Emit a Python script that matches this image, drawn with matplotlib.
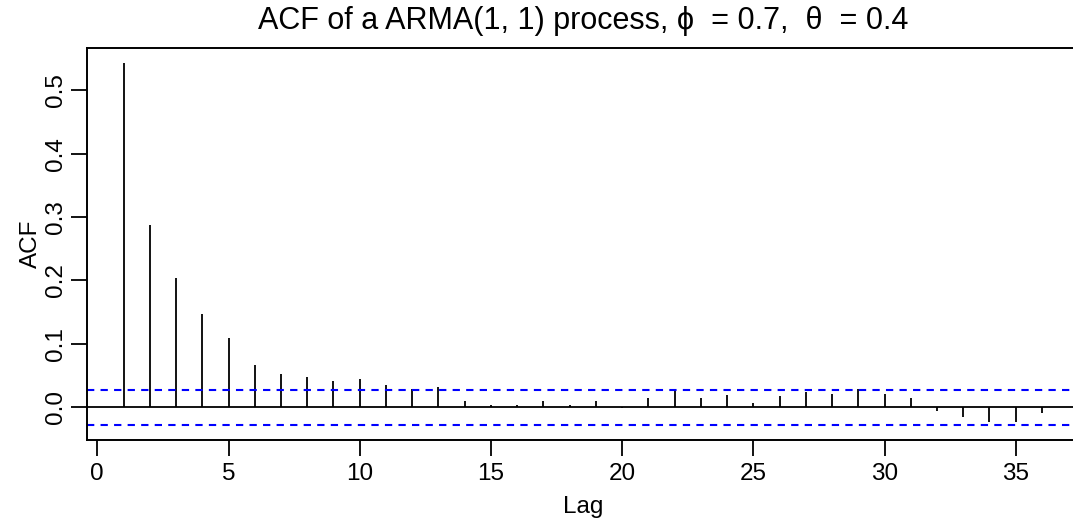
import matplotlib
matplotlib.use("Agg")
from matplotlib import pyplot as plt

plt.rcParams["font.family"] = ["Liberation Sans", "DejaVu Sans"]

# ACF values (lag 0 not drawn)
lags = list(range(1, 37))
acf_values = [0.544, 0.2875, 0.203, 0.147, 0.1085, 0.066, 0.0516, 0.047, 0.041, 0.0437,
              0.0347, 0.028, 0.032, 0.0095, 0.004, 0.003, 0.0095, 0.003, 0.0095, -0.002,
              0.0137, 0.0248, 0.0137, 0.0185, 0.0058, 0.0174, 0.023, 0.020, 0.028, 0.0205,
              0.0137, -0.006, -0.0153, -0.0242, -0.0232, -0.010]
ci_limit = 0.0277

x_ticks = [0, 5, 10, 15, 20, 25, 30, 35]
y_ticks = [0.0, 0.1, 0.2, 0.3, 0.4, 0.5]

fig = plt.figure(figsize=(10.73, 5.22), dpi=100)
ax = fig.add_axes([0.0809, 0.1571, 0.9244, 0.751])

ax.vlines(lags, 0, acf_values, color="black", linewidth=1.3)
ax.axhline(0, color="black", linewidth=1.3)
ax.axhline(ci_limit, color="#0000FF", linewidth=1.5, linestyle=(0, (3.5, 3.0)))
ax.axhline(-ci_limit, color="#0000FF", linewidth=1.5, linestyle=(0, (3.5, 3.0)))

ax.set_xlim(-0.4, 37.4)
ax.set_ylim(-0.052, 0.567)
ax.set_xticks(x_ticks)
ax.set_yticks(y_ticks)
ax.set_yticklabels(["%.1f" % v for v in y_ticks], rotation=90, va="center")

for s in ax.spines.values():
    s.set_linewidth(1.4)
ax.tick_params(direction="out", length=11.5, width=1.3, labelsize=17.5, pad=5)
ax.tick_params(axis="y", pad=3)

ax.set_xlabel("Lag", fontsize=17.5, labelpad=8)
ax.set_ylabel("ACF", fontsize=17.5, labelpad=2)
ax.set_title("ACF of a ARMA(1, 1) process, \u03d5  = 0.7,  \u03b8  = 0.4", fontsize=22, pad=14)

fig.savefig("out.png", dpi=100)
